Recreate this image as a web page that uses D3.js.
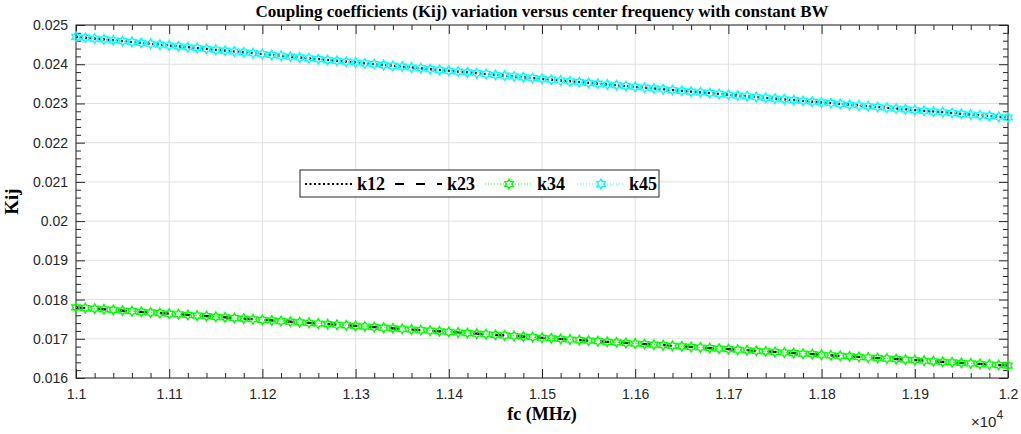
<!DOCTYPE html>
<html>
<head>
<meta charset="utf-8">
<script src="https://cdn.jsdelivr.net/npm/d3@7"></script>
<style>
  body { margin: 0; background: #fff; }
  svg { display: block; }
</style>
</head>
<body>
<script>
// center frequency samples (MHz)
const freq = [
  11000, 11010, 11020, 11030, 11040, 11050, 11060, 11070, 11080, 11090,
  11100, 11110, 11120, 11130, 11140, 11150, 11160, 11170, 11180, 11190,
  11200, 11210, 11220, 11230, 11240, 11250, 11260, 11270, 11280, 11290,
  11300, 11310, 11320, 11330, 11340, 11350, 11360, 11370, 11380, 11390,
  11400, 11410, 11420, 11430, 11440, 11450, 11460, 11470, 11480, 11490,
  11500, 11510, 11520, 11530, 11540, 11550, 11560, 11570, 11580, 11590,
  11600, 11610, 11620, 11630, 11640, 11650, 11660, 11670, 11680, 11690,
  11700, 11710, 11720, 11730, 11740, 11750, 11760, 11770, 11780, 11790,
  11800, 11810, 11820, 11830, 11840, 11850, 11860, 11870, 11880, 11890,
  11900, 11910, 11920, 11930, 11940, 11950, 11960, 11970, 11980, 11990,
  12000
];

// k12 (= k45, symmetric filter)
const k12 = [
  0.024700, 0.024678, 0.024655, 0.024633, 0.024611, 0.024588, 0.024566, 0.024544, 0.024522, 0.024500,
  0.024477, 0.024455, 0.024433, 0.024412, 0.024390, 0.024368, 0.024346, 0.024324, 0.024302, 0.024281,
  0.024259, 0.024237, 0.024216, 0.024194, 0.024173, 0.024151, 0.024130, 0.024108, 0.024087, 0.024066,
  0.024044, 0.024023, 0.024002, 0.023981, 0.023959, 0.023938, 0.023917, 0.023896, 0.023875, 0.023854,
  0.023833, 0.023812, 0.023792, 0.023771, 0.023750, 0.023729, 0.023709, 0.023688, 0.023667, 0.023647,
  0.023626, 0.023606, 0.023585, 0.023565, 0.023544, 0.023524, 0.023504, 0.023483, 0.023463, 0.023443,
  0.023422, 0.023402, 0.023382, 0.023362, 0.023342, 0.023322, 0.023302, 0.023282, 0.023262, 0.023242,
  0.023222, 0.023202, 0.023183, 0.023163, 0.023143, 0.023123, 0.023104, 0.023084, 0.023065, 0.023045,
  0.023025, 0.023006, 0.022987, 0.022967, 0.022948, 0.022928, 0.022909, 0.022890, 0.022870, 0.022851,
  0.022832, 0.022813, 0.022794, 0.022775, 0.022755, 0.022736, 0.022717, 0.022698, 0.022680, 0.022661,
  0.022642
];

// k23 (= k34)
const k23 = [
  0.017800, 0.017784, 0.017768, 0.017752, 0.017736, 0.017719, 0.017703, 0.017687, 0.017671, 0.017656,
  0.017640, 0.017624, 0.017608, 0.017592, 0.017576, 0.017561, 0.017545, 0.017529, 0.017513, 0.017498,
  0.017482, 0.017467, 0.017451, 0.017435, 0.017420, 0.017404, 0.017389, 0.017374, 0.017358, 0.017343,
  0.017327, 0.017312, 0.017297, 0.017282, 0.017266, 0.017251, 0.017236, 0.017221, 0.017206, 0.017191,
  0.017175, 0.017160, 0.017145, 0.017130, 0.017115, 0.017100, 0.017085, 0.017071, 0.017056, 0.017041,
  0.017026, 0.017011, 0.016997, 0.016982, 0.016967, 0.016952, 0.016938, 0.016923, 0.016909, 0.016894,
  0.016879, 0.016865, 0.016850, 0.016836, 0.016821, 0.016807, 0.016792, 0.016778, 0.016764, 0.016749,
  0.016735, 0.016721, 0.016707, 0.016692, 0.016678, 0.016664, 0.016650, 0.016636, 0.016621, 0.016607,
  0.016593, 0.016579, 0.016565, 0.016551, 0.016537, 0.016523, 0.016509, 0.016495, 0.016481, 0.016468,
  0.016454, 0.016440, 0.016426, 0.016412, 0.016399, 0.016385, 0.016371, 0.016358, 0.016344, 0.016330,
  0.016317
];

const k34 = k23;
const k45 = k12;

const xTicks = [11000, 11100, 11200, 11300, 11400, 11500, 11600, 11700, 11800, 11900, 12000];
const xTickLabels = ['1.1', '1.11', '1.12', '1.13', '1.14', '1.15', '1.16', '1.17', '1.18', '1.19', '1.2'];
const yTicks = [0.016, 0.017, 0.018, 0.019, 0.02, 0.021, 0.022, 0.023, 0.024, 0.025];
const yTickLabels = ['0.016', '0.017', '0.018', '0.019', '0.02', '0.021', '0.022', '0.023', '0.024', '0.025'];

const seriesNames = ['k12', 'k23', 'k34', 'k45'];

const width = 1021, height = 434;
const margin = { top: 25, right: 13, bottom: 56, left: 76 };
const innerW = width - margin.left - margin.right;
const innerH = height - margin.top - margin.bottom;
const axisColor = '#262626';
const serif = '"Liberation Serif", "Times New Roman", serif';
const sans = '"Liberation Sans", Arial, sans-serif';

const svg = d3.select('body').append('svg')
  .attr('width', width)
  .attr('height', height);

const g = svg.append('g')
  .attr('transform', `translate(${margin.left},${margin.top})`);

const x = d3.scaleLinear().domain([11000, 12000]).range([0, innerW]);
const y = d3.scaleLinear().domain([0.016, 0.025]).range([innerH, 0]);

// grid
g.append('g').selectAll('line').data(xTicks).join('line')
  .attr('x1', d => x(d)).attr('x2', d => x(d))
  .attr('y1', 0).attr('y2', innerH)
  .attr('stroke', '#e0e0e0').attr('stroke-width', 1);
g.append('g').selectAll('line').data(yTicks).join('line')
  .attr('x1', 0).attr('x2', innerW)
  .attr('y1', d => y(d)).attr('y2', d => y(d))
  .attr('stroke', '#e0e0e0').attr('stroke-width', 1);

// minor tick positions
const xMinor = d3.range(11000, 12000.1, 20).filter(v => v % 100 !== 0);
const yMinor = d3.range(16, 25.01, 0.2).map(v => v / 1000).filter(v => Math.abs(v * 1000 - Math.round(v * 1000)) > 1e-6);

// axes with inward ticks on all four sides
const xLabel = d => xTickLabels[xTicks.indexOf(d)];
const yLabel = d => yTickLabels[yTicks.findIndex(t => Math.abs(t - d) < 1e-9)];

function styleAxis(sel) {
  sel.select('.domain').remove();
  sel.selectAll('line').attr('stroke', axisColor);
  sel.selectAll('text').attr('fill', axisColor)
    .style('font-family', sans).style('font-size', '14px');
}

g.append('g').attr('transform', `translate(0,${innerH})`)
  .call(d3.axisBottom(x).tickValues(xTicks).tickFormat(xLabel).tickSizeInner(-9).tickSizeOuter(0).tickPadding(11))
  .call(styleAxis);
g.append('g').attr('transform', `translate(0,${innerH})`)
  .call(d3.axisBottom(x).tickValues(xMinor).tickFormat('').tickSizeInner(-5).tickSizeOuter(0))
  .call(styleAxis);
g.append('g')
  .call(d3.axisTop(x).tickValues(xTicks).tickFormat('').tickSizeInner(-9).tickSizeOuter(0))
  .call(styleAxis);
g.append('g')
  .call(d3.axisTop(x).tickValues(xMinor).tickFormat('').tickSizeInner(-5).tickSizeOuter(0))
  .call(styleAxis);

g.append('g')
  .call(d3.axisLeft(y).tickValues(yTicks).tickFormat(yLabel).tickSizeInner(-9).tickSizeOuter(0).tickPadding(8))
  .call(styleAxis);
g.append('g')
  .call(d3.axisLeft(y).tickValues(yMinor).tickFormat('').tickSizeInner(-5).tickSizeOuter(0))
  .call(styleAxis);
g.append('g').attr('transform', `translate(${innerW},0)`)
  .call(d3.axisRight(y).tickValues(yTicks).tickFormat('').tickSizeInner(-9).tickSizeOuter(0))
  .call(styleAxis);
g.append('g').attr('transform', `translate(${innerW},0)`)
  .call(d3.axisRight(y).tickValues(yMinor).tickFormat('').tickSizeInner(-5).tickSizeOuter(0))
  .call(styleAxis);

// box
g.append('rect')
  .attr('x', 0).attr('y', 0).attr('width', innerW).attr('height', innerH)
  .attr('fill', 'none').attr('stroke', axisColor).attr('stroke-width', 1);

// series
const series = [
  { name: 'k12', values: k12, color: '#000000', width: 2.2, dash: '2,2.5', marker: false },
  { name: 'k23', values: k23, color: '#000000', width: 2.2, dash: '9,12', marker: false },
  { name: 'k34', values: k34, color: '#00ff00', width: 1, dash: '1,2', marker: true },
  { name: 'k45', values: k45, color: '#00ffff', width: 1, dash: '1,2', marker: true }
];

const line = d3.line().x(d => x(d[0])).y(d => y(d[1]));

// six-pointed star path
function hexagram(r) {
  const pts = [];
  for (let i = 0; i < 12; i++) {
    const a = -Math.PI / 2 + i * Math.PI / 6;
    const rr = i % 2 === 0 ? r : r * 0.58;
    pts.push([rr * Math.cos(a), rr * Math.sin(a)]);
  }
  return 'M' + pts.map(p => p.join(',')).join('L') + 'Z';
}

const plot = g.append('g');
series.forEach(s => {
  const pts = freq.map((f, i) => [f, s.values[i]]);
  plot.append('path')
    .attr('d', line(pts))
    .attr('fill', 'none')
    .attr('stroke', s.color)
    .attr('stroke-width', s.width)
    .attr('stroke-dasharray', s.dash);
  if (s.marker) {
    plot.append('g').selectAll('path').data(pts).join('path')
      .attr('d', hexagram(4.8))
      .attr('transform', d => `translate(${x(d[0])},${y(d[1])})`)
      .attr('fill', 'none')
      .attr('stroke', s.color)
      .attr('stroke-width', 1.4);
  }
});

// titles
svg.append('text')
  .attr('x', margin.left + innerW / 2).attr('y', 17)
  .attr('text-anchor', 'middle')
  .style('font-family', serif).style('font-weight', 'bold').style('font-size', '17px')
  .text('Coupling coefficients (Kij) variation versus center frequency with constant BW');

svg.append('text')
  .attr('x', margin.left + innerW / 2).attr('y', 420)
  .attr('text-anchor', 'middle')
  .style('font-family', serif).style('font-weight', 'bold').style('font-size', '18px')
  .text('fc (MHz)');

svg.append('text')
  .attr('transform', `translate(18,${margin.top + innerH / 2}) rotate(-90)`)
  .attr('text-anchor', 'middle')
  .style('font-family', serif).style('font-weight', 'bold').style('font-size', '19px')
  .text('Kij');

// exponent
const ex = svg.append('text')
  .attr('x', 971).attr('y', 427)
  .attr('fill', axisColor)
  .style('font-family', sans).style('font-size', '15px');
ex.append('tspan').text('\u00d710');
ex.append('tspan').attr('dy', -8).style('font-size', '12px').text('4');

// legend
const legend = svg.append('g').attr('transform', 'translate(300,170)');
legend.append('rect')
  .attr('width', 359).attr('height', 27)
  .attr('fill', '#fff').attr('stroke', axisColor).attr('stroke-width', 1);

const legendX = [5, 95, 185, 277];
series.forEach((s, i) => {
  const lg = legend.append('g').attr('transform', `translate(${legendX[i]},14)`);
  lg.append('line')
    .attr('x1', 0).attr('x2', 47).attr('y1', 0).attr('y2', 0)
    .attr('stroke', s.color).attr('stroke-width', s.width)
    .attr('stroke-dasharray', s.dash);
  if (s.marker) {
    lg.append('path').attr('d', hexagram(4.8))
      .attr('transform', 'translate(24,0)')
      .attr('fill', 'none').attr('stroke', s.color).attr('stroke-width', 1.4);
  }
  lg.append('text')
    .attr('x', 52).attr('y', 6)
    .style('font-family', serif).style('font-weight', 'bold').style('font-size', '18px')
    .text(seriesNames[i]);
});
</script>
</body>
</html>
